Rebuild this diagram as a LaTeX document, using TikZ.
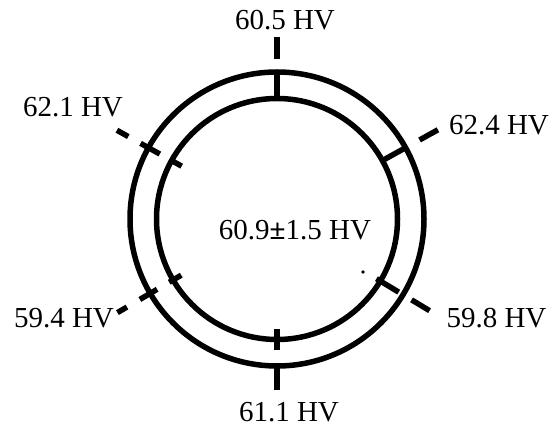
\documentclass[tikz,border=0pt]{standalone}
\usepackage{fontspec}
\setmainfont{Liberation Serif}
\begin{document}
\begin{tikzpicture}[x=1pt,y=1pt,
  ring/.style={line width=5.5pt},
  tick/.style={line width=5.5pt,line cap=butt},
  lbl/.style={anchor=base,inner sep=0pt,font=\fontsize{29}{29}\selectfont}]
\useasboundingbox (0,0) rectangle (552,428);
\coordinate (c) at (277,209);
\draw[ring] (c) circle[radius=147];
\draw[ring] (c) circle[radius=120.5];
\begin{scope}[shift={(c)}]
  % top
  \draw[tick] (90:160) -- (90:182);
  \draw[tick] (90:147) -- (90:120);
  % bottom
  \draw[tick] (-90:110) -- (-90:131);
  \draw[tick] (-90:145) -- (-90:171);
  % upper left
  \draw[tick] (151:170) -- (151:183);
  \draw[tick] (151:134) -- (151:156);
  \draw[tick] (151:109) -- (151:121);
  % upper right
  \draw[tick] (29:120) -- (29:147);
  \draw[tick] (29:163) -- (29:184);
  % lower left
  \draw[tick] (210.4:174) -- (210.4:185);
  \draw[tick] (210.4:139) -- (210.4:159);
  \draw[tick] (210.4:111) -- (210.4:125);
  % lower right
  \draw[tick] (-31:116) -- (-31:142);
  \draw[tick] (-31:157) -- (-31:178);
\end{scope}
\fill (363,156) circle[radius=1.8];
\node[lbl] (t) at (285,398) {60.5 HV};
\node[lbl] (ul) at (73,311) {62.1 HV};
\node[lbl] (ur) at (499,293) {62.4 HV};
\node[lbl] (m) at (295,188) {60.9{\bfseries ±}1.5 HV};
\node[lbl] (ll) at (64,100) {59.4 HV};
\node[lbl] (lr) at (496.5,100) {59.8 HV};
\node[lbl] (b) at (289,6) {61.1 HV};
\end{tikzpicture}
\end{document}
